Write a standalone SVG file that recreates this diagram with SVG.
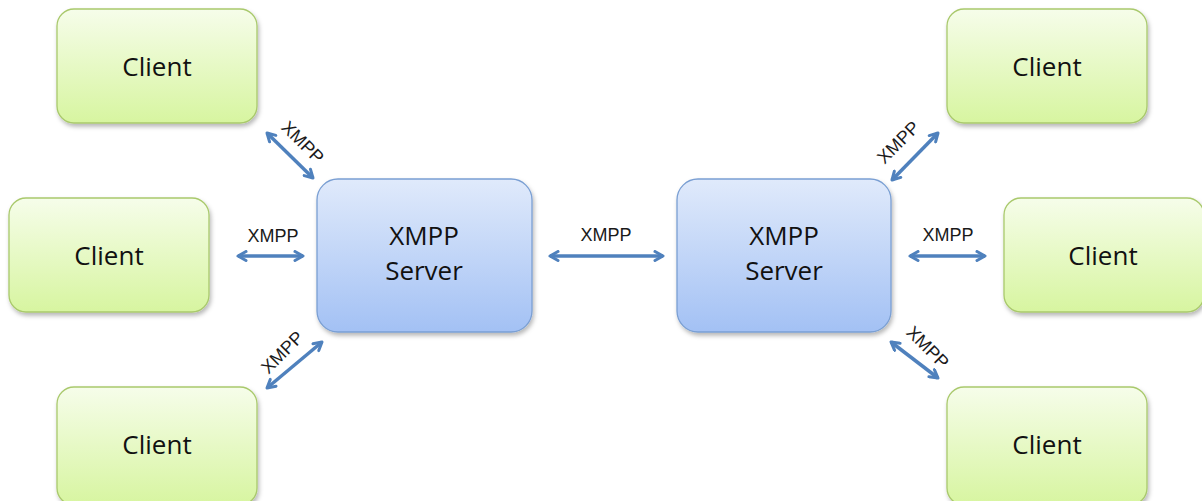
<svg xmlns="http://www.w3.org/2000/svg" width="1202" height="501" viewBox="0 0 1202 501">
  <style>
    .client rect { fill: url(#gClient); stroke: #a9c96c; stroke-width: 1.3; filter: url(#shadow); }
    .server rect { fill: url(#gServer); stroke: #7a9fd3; stroke-width: 1.3; filter: url(#shadow); }
    .node text { font-family: "Open Sans", "Noto Sans", sans-serif; font-size: 26px; fill: #111; text-anchor: middle; }
    .link { stroke: #4f81bd; stroke-width: 3.5; fill: none; marker-start: url(#head); marker-end: url(#head); }
    .lbl { font-family: "Liberation Sans", Arial, sans-serif; font-size: 18px; fill: #1a1a1a; text-anchor: middle; }
  </style>
  <defs>
    <linearGradient id="gClient" x1="0" y1="0" x2="0" y2="1">
      <stop offset="0" stop-color="#f6fdea"/>
      <stop offset="1" stop-color="#d7f5a0"/>
    </linearGradient>
    <linearGradient id="gServer" x1="0" y1="0" x2="0" y2="1">
      <stop offset="0" stop-color="#e0eafb"/>
      <stop offset="1" stop-color="#a3c1f4"/>
    </linearGradient>
    <filter id="shadow" x="-10%" y="-10%" width="125%" height="130%">
      <feDropShadow dx="1.5" dy="3" stdDeviation="2" flood-color="#000" flood-opacity="0.28"/>
    </filter>
    <marker id="head" viewBox="0 0 12 12" refX="10" refY="6" markerWidth="12" markerHeight="12" markerUnits="userSpaceOnUse" orient="auto-start-reverse">
      <path d="M2,1.5 L10,6 L2,10.5" fill="none" stroke="#4f81bd" stroke-width="3" stroke-linecap="round" stroke-linejoin="round"/>
    </marker>
  </defs>

  <!-- client nodes -->
  <g id="client-top-left" class="node client">
    <rect x="57" y="9" width="200" height="114" rx="17"/>
    <text x="157" y="76">Client</text>
  </g>
  <g id="client-mid-left" class="node client">
    <rect x="9" y="198" width="200" height="114" rx="17"/>
    <text x="109" y="265">Client</text>
  </g>
  <g id="client-bottom-left" class="node client">
    <rect x="57" y="387" width="200" height="118" rx="17"/>
    <text x="157" y="454">Client</text>
  </g>
  <g id="client-top-right" class="node client">
    <rect x="947" y="9" width="200" height="114" rx="17"/>
    <text x="1047" y="76">Client</text>
  </g>
  <g id="client-mid-right" class="node client">
    <rect x="1004" y="198" width="200" height="114" rx="17"/>
    <text x="1103" y="265">Client</text>
  </g>
  <g id="client-bottom-right" class="node client">
    <rect x="947" y="387" width="200" height="118" rx="17"/>
    <text x="1047" y="454">Client</text>
  </g>

  <!-- server nodes -->
  <g id="server-left" class="node server">
    <rect x="317" y="179" width="215" height="153" rx="21"/>
    <text x="424" y="245">XMPP</text>
    <text x="424" y="280">Server</text>
  </g>
  <g id="server-right" class="node server">
    <rect x="677" y="179" width="214" height="153" rx="21"/>
    <text x="784" y="245">XMPP</text>
    <text x="784" y="280">Server</text>
  </g>

  <!-- connectors -->
  <g id="connectors">
    <path class="link" d="M267,133 L313,178"/>
    <path class="link" d="M238,256 L303,256"/>
    <path class="link" d="M267,388 L322,342"/>
    <path class="link" d="M550,256 L663,256"/>
    <path class="link" d="M938,133 L892,180"/>
    <path class="link" d="M910,256 L985,256"/>
    <path class="link" d="M891,342 L938,378"/>

    <text class="lbl" transform="translate(303,142) rotate(45)" y="6.5">XMPP</text>
    <text class="lbl" x="273" y="242">XMPP</text>
    <text class="lbl" transform="translate(282,352) rotate(-45)" y="6.5">XMPP</text>
    <text class="lbl" x="606" y="241">XMPP</text>
    <text class="lbl" transform="translate(898,142) rotate(-45)" y="6.5">XMPP</text>
    <text class="lbl" x="948" y="241">XMPP</text>
    <text class="lbl" transform="translate(928,347) rotate(45)" y="6.5">XMPP</text>
  </g>
</svg>
